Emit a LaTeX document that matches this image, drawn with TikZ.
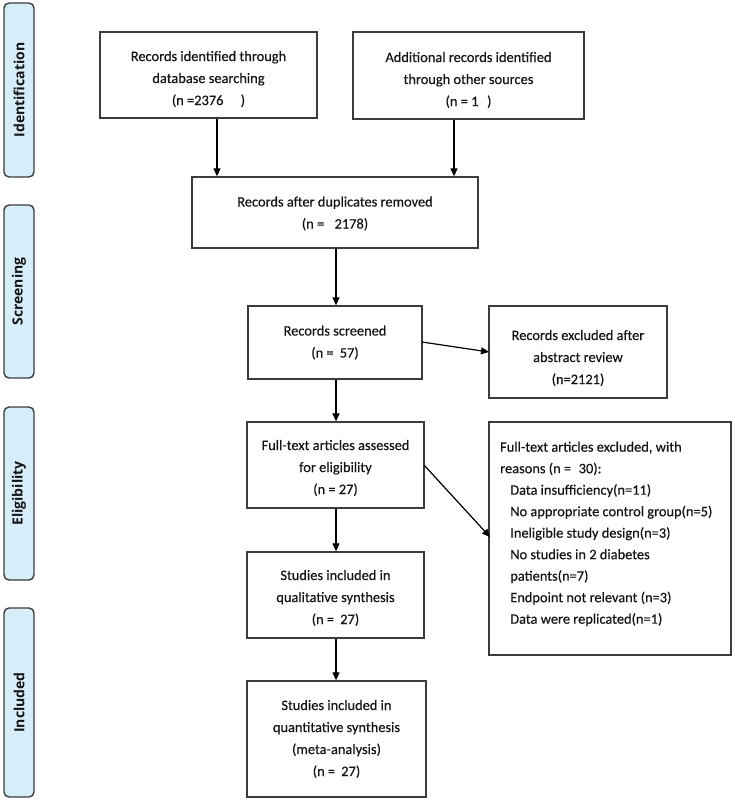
\documentclass[tikz,border=0pt]{standalone}
\usepackage{fontspec}
\setmainfont{Carlito}[FakeBold=0.35]
\newfontfamily\labfont{Open Sans}
\usetikzlibrary{arrows.meta,calc}
\definecolor{labfill}{HTML}{D6EDFA}
\definecolor{boxline}{HTML}{3C3C3C}
\definecolor{txt}{HTML}{141414}
\tikzset{
  flowbox/.style={draw=boxline, line width=1.3pt, rectangle, inner sep=0pt},
  flowtxt/.style={inner sep=0pt, align=center, font=\fontsize{14.4}{22}\selectfont, text=txt},
  sidelab/.style={draw=boxline, line width=1.4pt, fill=labfill, rounded corners=5pt, rotate=90,
    inner sep=0pt, minimum height=30pt, font=\labfont\bfseries\fontsize{14}{16}\selectfont, text=txt},
  arr/.style={draw=black, line width=1.2pt, -{Triangle[length=8pt,width=7pt]}},
}
\begin{document}
\begin{tikzpicture}[x=1pt,y=-1pt]
\useasboundingbox (0,0) rectangle (734,800);
% side labels
\node[sidelab, minimum width=174pt] (lid) at (19,90) {Identification};
\node[sidelab, minimum width=173pt] (lsc) at (19,291.5) {Screening};
\node[sidelab, minimum width=173pt] (lel) at (19,493.5) {Eligibility};
\node[sidelab, minimum width=189pt] (lin) at (19,702.5) {Included};
% boxes
\node[flowbox, minimum width=217pt, minimum height=86pt] (b1) at (208.5,75) {};
\node[flowtxt] (b1t) at ($(b1.center)+(0,4)$)
  {Records identified through\\database searching\\(n =2376\hspace{1.2em})};
\node[flowbox, minimum width=231pt, minimum height=87pt] (b2) at (468.5,75.5) {};
\node[flowtxt] (b2t) at ($(b2.center)+(0,4.5)$)
  {Additional records identified\\through other sources\\(n = 1\hspace{0.6em})};
\node[flowbox, minimum width=286pt, minimum height=71pt] (b3) at (335,212.5) {};
\node[flowtxt] (b3t) at ($(b3.center)+(0,1)$)
  {Records after duplicates removed\\(n = \hspace{0.5em}2178)};
\node[flowbox, minimum width=174pt, minimum height=73pt] (b4) at (335,342.5) {};
\node[flowtxt] (b4t) at (b4.center)
  {Records screened\\(n = \hspace{0.2em}57)};
\node[flowbox, minimum width=178pt, minimum height=92pt] (b5) at (578,352) {};
\node[flowtxt] (b5t) at ($(b5.center)+(0,6)$)
  {Records excluded after\\abstract review\\(n=2121)};
\node[flowbox, minimum width=177pt, minimum height=86pt] (b6) at (335.5,465) {};
\node[flowtxt] (b6t) at ($(b6.center)+(0,3)$)
  {Full-text articles assessed\\for eligibility\\(n = 27)};
\node[flowbox, minimum width=242pt, minimum height=233pt] (b7) at (610,538.5) {};
\node[anchor=north west, inner sep=0pt, align=left, text=txt,
  font=\fontsize{14.4}{21.5}\selectfont] (b7t) at (500,441.5)
  {Full-text articles excluded, with\\
   reasons (n = \hspace{0.3em}30):\\
   \hspace*{0.7em}Data insufficiency(n=11)\\
   \hspace*{0.7em}No appropriate control group(n=5)\\
   \hspace*{0.7em}Ineligible study design(n=3)\\
   \hspace*{0.7em}No studies in 2 diabetes\\
   \hspace*{0.7em}patients(n=7)\\
   \hspace*{0.7em}Endpoint not relevant (n=3)\\
   \hspace*{0.7em}Data were replicated(n=1)};
\node[flowbox, minimum width=177pt, minimum height=86pt] (b8) at (335.5,595) {};
\node[flowtxt] (b8t) at ($(b8.center)+(0,3)$)
  {Studies included in\\qualitative synthesis\\(n = \hspace{0.2em}27)};
\node[flowbox, minimum width=179pt, minimum height=116pt] (b9) at (336.5,739) {};
\node[flowtxt] (b9t) at (b9.center)
  {Studies included in\\quantitative synthesis\\(meta-analysis)\\(n = \hspace{0.2em}27)};
% arrow columns
\coordinate (c1) at (217,0);
\coordinate (c2) at (454,0);
\coordinate (cm) at (336,0);
\coordinate (s4) at (422,342);
\coordinate (e5) at (489,352);
\coordinate (s6) at (424,465);
\coordinate (e7) at (490,537);
% connectors
\draw[arr] (b1.south -| c1) -- (b3.north -| c1);
\draw[arr] (b2.south -| c2) -- (b3.north -| c2);
\draw[arr] (b3.south -| cm) -- (b4.north -| cm);
\draw[arr] (s4) -- (e5);
\draw[arr] (b4.south -| cm) -- (b6.north -| cm);
\draw[arr] (s6) -- (e7);
\draw[arr] (b6.south -| cm) -- (b8.north -| cm);
\draw[arr] (b8.south -| cm) -- (b9.north -| cm);
\end{tikzpicture}
\end{document}
